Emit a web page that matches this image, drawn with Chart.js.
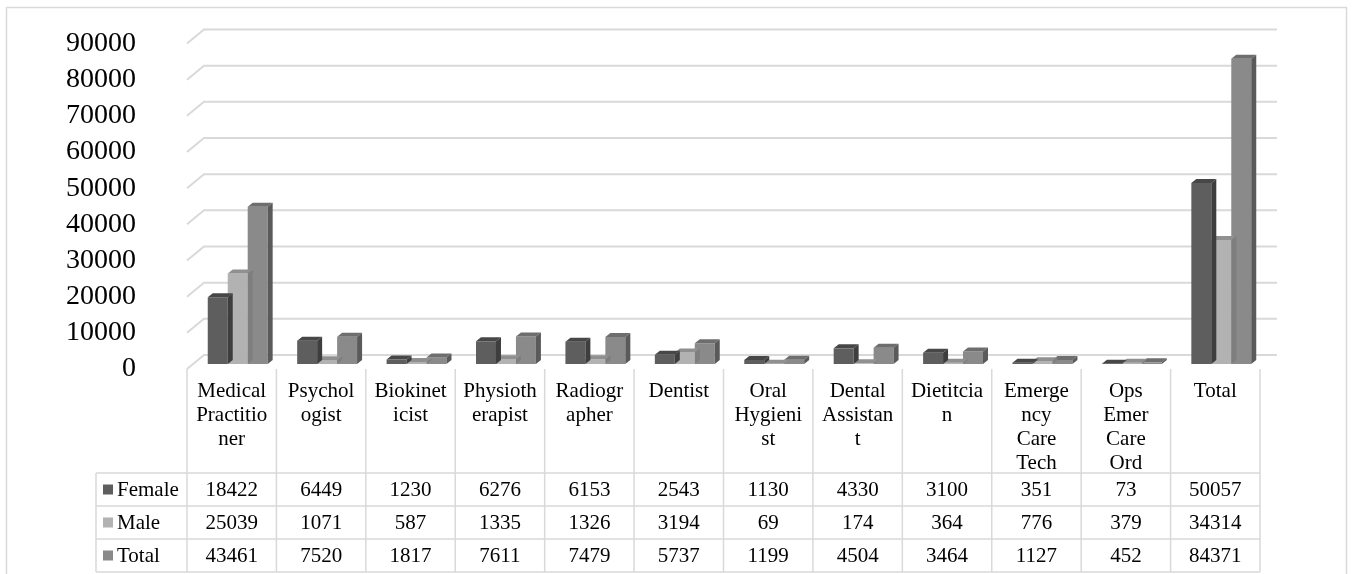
<!DOCTYPE html>
<html>
<head>
<meta charset="utf-8">
<script src="https://cdn.jsdelivr.net/npm/chart.js@4/dist/chart.umd.min.js"></script>
<style>
  html, body { margin: 0; padding: 0; background: #fff; overflow: hidden; }
  canvas { display: block; }
</style>
</head>
<body>
<canvas id="chart" width="1352" height="574"></canvas>
<script>
// Occupation categories (header text is wrapped the way the table shows it)
const categories = [
  ['Medical', 'Practitio', 'ner'],
  ['Psychol', 'ogist'],
  ['Biokinet', 'icist'],
  ['Physioth', 'erapist'],
  ['Radiogr', 'apher'],
  ['Dentist'],
  ['Oral', 'Hygieni', 'st'],
  ['Dental', 'Assistan', 't'],
  ['Dietitcia', 'n'],
  ['Emerge', 'ncy', 'Care', 'Tech'],
  ['Ops', 'Emer', 'Care', 'Ord'],
  ['Total']
];

const female = [18422, 6449, 1230, 6276, 6153, 2543, 1130, 4330, 3100, 351, 73, 50057];
const male   = [25039, 1071, 587, 1335, 1326, 3194, 69, 174, 364, 776, 379, 34314];
const total  = [43461, 7520, 1817, 7611, 7479, 5737, 1199, 4504, 3464, 1127, 452, 84371];

const seriesNames = ['Female', 'Male', 'Total'];
const seriesValues = [female, male, total];

const yTicks = [0, 10000, 20000, 30000, 40000, 50000, 60000, 70000, 80000, 90000];

// Shading for the three faces of each column
const FRONT = ['#5e5e5e', '#b2b2b2', '#8a8a8a'];
const TOP   = ['#474747', '#909090', '#6e6e6e'];
const SIDE  = ['#3e3e3e', '#7e7e7e', '#5a5a5a'];

const GRID = '#d9d9d9';
const FONT = "'Liberation Serif', 'Times New Roman', serif";

const WALL  = { dx: 17, dy: 14 };  // floor front edge -> back wall
const SHIFT = { dx: 6,  dy: 5 };   // columns sit a little into the floor
const DEPTH = { dx: 5,  dy: 4 };   // column thickness

// Back-wall gridlines with their diagonal floor/side run, and the 3D column faces
const pseudo3d = {
  id: 'pseudo3d',
  beforeDatasetsDraw(chart) {
    const { ctx, chartArea: a, scales: { y } } = chart;
    ctx.save();
    ctx.strokeStyle = GRID;
    ctx.lineWidth = 2;
    y.ticks.forEach(t => {
      const py = y.getPixelForValue(t.value);
      ctx.beginPath();
      ctx.moveTo(a.left, py);
      ctx.lineTo(a.left + WALL.dx, py - WALL.dy);
      ctx.lineTo(a.right + WALL.dx, py - WALL.dy);
      ctx.stroke();
    });
    ctx.restore();
    ctx.save();
    ctx.translate(SHIFT.dx, -SHIFT.dy);
  },
  afterDatasetDraw(chart, args) {
    const ctx = chart.ctx;
    const i = args.index;
    args.meta.data.forEach(bar => {
      const { x, y, base, width } = bar.getProps(['x', 'y', 'base', 'width'], true);
      const l = x - width / 2, r = x + width / 2;
      ctx.fillStyle = TOP[i];
      ctx.beginPath();
      ctx.moveTo(l, y);
      ctx.lineTo(r, y);
      ctx.lineTo(r + DEPTH.dx, y - DEPTH.dy);
      ctx.lineTo(l + DEPTH.dx, y - DEPTH.dy);
      ctx.closePath();
      ctx.fill();
      ctx.fillStyle = SIDE[i];
      ctx.beginPath();
      ctx.moveTo(r, y);
      ctx.lineTo(r + DEPTH.dx, y - DEPTH.dy);
      ctx.lineTo(r + DEPTH.dx, base - DEPTH.dy);
      ctx.lineTo(r, base);
      ctx.closePath();
      ctx.fill();
    });
  },
  afterDatasetsDraw(chart) {
    chart.ctx.restore();
  }
};

// Data table under the plot, with legend keys in the first column
const dataTable = {
  id: 'dataTable',
  afterDraw(chart) {
    const { ctx, chartArea: a, scales: { x } } = chart;
    const n = categories.length;
    const cw = (a.right - a.left) / n;
    const edges = [];
    for (let i = 0; i < n; i++) edges.push(x.getPixelForValue(i) - cw / 2);
    edges.push(x.getPixelForValue(n - 1) + cw / 2);

    const legendLeft = 96;
    const headTop = a.bottom;
    const headBottom = 473;
    const rowH = 33;
    const rows = [headBottom, headBottom + rowH, headBottom + 2 * rowH, headBottom + 3 * rowH];

    ctx.save();
    ctx.strokeStyle = GRID;
    ctx.lineWidth = 1.5;
    edges.forEach(ex => {
      ctx.beginPath();
      ctx.moveTo(ex, headTop);
      ctx.lineTo(ex, rows[3]);
      ctx.stroke();
    });
    ctx.beginPath();
    ctx.moveTo(legendLeft, rows[0]);
    ctx.lineTo(legendLeft, rows[3]);
    ctx.stroke();
    rows.forEach(ry => {
      ctx.beginPath();
      ctx.moveTo(legendLeft, ry);
      ctx.lineTo(edges[n], ry);
      ctx.stroke();
    });

    // header text
    ctx.fillStyle = '#000';
    ctx.font = '21px ' + FONT;
    ctx.textAlign = 'center';
    ctx.textBaseline = 'alphabetic';
    categories.forEach((lines, i) => {
      const cx = x.getPixelForValue(i);
      lines.forEach((ln, k) => ctx.fillText(ln, cx, 397 + k * 24));
    });

    // values
    ctx.textBaseline = 'middle';
    seriesValues.forEach((vals, s) => {
      const cy = (rows[s] + rows[s + 1]) / 2 + 1;
      vals.forEach((v, i) => ctx.fillText(String(v), x.getPixelForValue(i), cy));
    });

    // legend keys
    ctx.textAlign = 'left';
    seriesNames.forEach((name, s) => {
      const cy = (rows[s] + rows[s + 1]) / 2;
      ctx.fillStyle = FRONT[s];
      ctx.fillRect(103, cy - 5, 10, 10);
      ctx.fillStyle = '#000';
      ctx.fillText(name, 117, cy + 1);
    });

    // chart border
    ctx.strokeStyle = GRID;
    ctx.lineWidth = 1.5;
    ctx.strokeRect(6.5, 7.5, 1340, 620);
    ctx.restore();
  }
};

new Chart(document.getElementById('chart'), {
  type: 'bar',
  data: {
    labels: categories.map(c => c.join(' ')),
    datasets: seriesNames.map((name, s) => ({
      label: name,
      data: seriesValues[s],
      backgroundColor: FRONT[s],
      borderWidth: 0,
      categoryPercentage: 0.67,
      barPercentage: 1.0,
      clip: false
    }))
  },
  options: {
    responsive: false,
    animation: false,
    devicePixelRatio: 1,
    layout: { padding: { top: 43.5, right: 92, bottom: 205, left: 0 } },
    plugins: {
      legend: { display: false },
      tooltip: { enabled: false }
    },
    scales: {
      x: { display: false },
      y: {
        min: yTicks[0],
        max: yTicks[yTicks.length - 1],
        grid: { display: false, drawTicks: false },
        border: { display: false },
        afterBuildTicks(scale) { scale.ticks = yTicks.map(v => ({ value: v })); },
        ticks: {
          autoSkip: false,
          padding: 51,
          color: '#000',
          font: { family: FONT, size: 28 },
          callback: v => String(v)
        },
        afterFit(scale) {
          scale.width = 187;
          // the wide label gap is horizontal only; keep the plot height fixed
          scale.paddingTop = 0;
          scale.paddingBottom = 0;
        }
      }
    }
  },
  plugins: [pseudo3d, dataTable]
});
</script>
</body>
</html>
